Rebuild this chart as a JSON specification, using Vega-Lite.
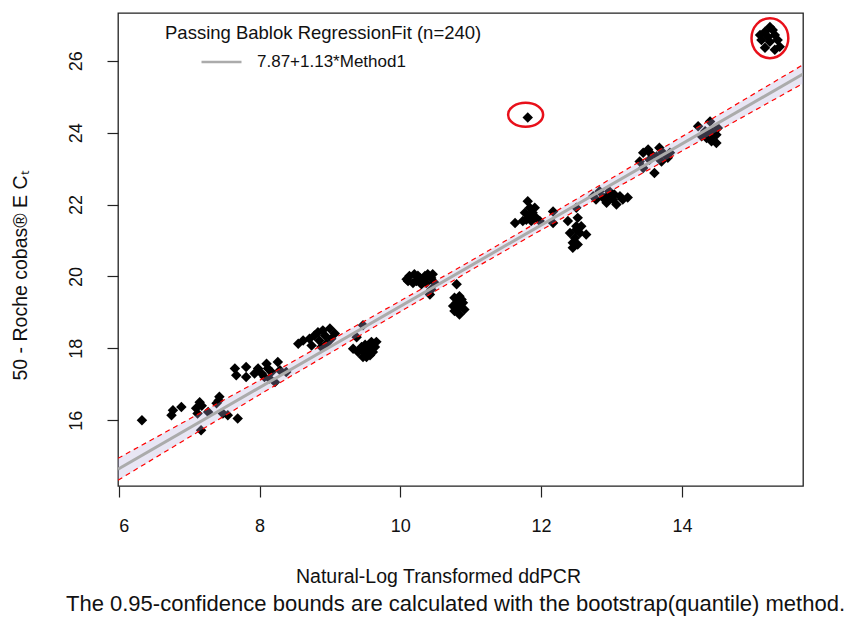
{
  "$schema": "https://vega.github.io/schema/vega-lite/v6.json",
  "autosize": {"type": "none"},
  "width": 685,
  "height": 473,
  "padding": {"left": 118, "top": 13, "right": 45, "bottom": 135},
  "background": "white",
  "title": {"text": "The 0.95-confidence bounds are calculated with the bootstrap(quantile) method.", "orient": "bottom", "anchor": "middle", "offset": 8, "font": "Liberation Sans", "fontSize": 22, "fontWeight": "normal", "color": "#111111", "dx": -5},
  "config": {
    "font": "Liberation Sans",
    "view": {"stroke": "#222222", "strokeWidth": 1.3},
    "axis": {"grid": false, "domain": false, "tickColor": "#222222", "tickSize": 11, "tickWidth": 1.2, "labelColor": "#111111", "titleColor": "#111111", "labelFont": "Liberation Sans", "titleFont": "Liberation Sans", "labelFontSize": 18, "titleFontSize": 19.5, "titleFontWeight": "normal"}
  },
  "datasets": {
    "pts": [
      {"x":6.33,"y":16.0},{"x":6.75,"y":16.14},{"x":6.77,"y":16.28},{"x":6.89,"y":16.37},{"x":7.10,"y":16.33},{"x":7.15,"y":16.5},{"x":7.12,"y":16.19},{"x":7.17,"y":15.72},{"x":7.27,"y":16.23},{"x":7.39,"y":16.47},{"x":7.43,"y":16.65},{"x":7.48,"y":16.19},{"x":7.55,"y":16.14},{"x":7.69,"y":16.05},{"x":7.18,"y":16.4},{"x":7.42,"y":16.55},
      {"x":7.65,"y":17.44},{"x":7.67,"y":17.25},{"x":7.81,"y":17.48},{"x":7.81,"y":17.2},{"x":7.98,"y":17.44},{"x":8.03,"y":17.3},{"x":8.10,"y":17.57},{"x":8.12,"y":17.44},{"x":8.07,"y":17.2},{"x":8.17,"y":17.34},{"x":8.26,"y":17.62},{"x":8.22,"y":17.06},{"x":8.29,"y":17.39},{"x":8.38,"y":17.34},{"x":7.93,"y":17.3},{"x":8.14,"y":17.16},
      {"x":8.55,"y":18.13},{"x":8.62,"y":18.22},{"x":8.71,"y":18.27},{"x":8.74,"y":18.08},{"x":8.83,"y":18.45},{"x":8.85,"y":18.22},{"x":8.88,"y":18.04},{"x":8.93,"y":18.36},{"x":9.0,"y":18.55},{"x":9.02,"y":18.27},{"x":9.07,"y":18.41},{"x":8.78,"y":18.36},{"x":8.95,"y":18.13},{"x":8.9,"y":18.5},
      {"x":9.47,"y":18.64},{"x":9.38,"y":18.31},{"x":9.33,"y":17.99},{"x":9.45,"y":18.04},{"x":9.49,"y":17.9},{"x":9.47,"y":17.76},{"x":9.59,"y":18.18},{"x":9.64,"y":18.04},{"x":9.66,"y":18.18},{"x":9.57,"y":17.81},{"x":9.54,"y":18.04},{"x":9.4,"y":17.9},{"x":9.61,"y":17.9},{"x":9.52,"y":17.76},{"x":9.56,"y":17.95},{"x":9.5,"y":18.1},
      {"x":10.09,"y":19.92},{"x":10.13,"y":20.01},{"x":10.2,"y":20.06},{"x":10.28,"y":19.96},{"x":10.18,"y":19.82},{"x":10.35,"y":20.01},{"x":10.39,"y":20.06},{"x":10.44,"y":19.96},{"x":10.46,"y":20.06},{"x":10.37,"y":19.82},{"x":10.3,"y":19.78},{"x":10.44,"y":19.64},{"x":10.42,"y":19.5},{"x":10.23,"y":19.87},{"x":10.11,"y":19.87},{"x":10.49,"y":19.82},{"x":10.25,"y":20.02},{"x":10.33,"y":19.9},
      {"x":10.8,"y":19.78},{"x":10.77,"y":19.41},{"x":10.84,"y":19.45},{"x":10.8,"y":19.27},{"x":10.89,"y":19.27},{"x":10.82,"y":19.13},{"x":10.91,"y":19.08},{"x":10.77,"y":19.04},{"x":10.84,"y":18.94},{"x":10.87,"y":19.36},{"x":10.75,"y":19.18},{"x":10.85,"y":19.2},
      {"x":11.63,"y":21.49},{"x":11.81,"y":22.09},{"x":11.84,"y":21.91},{"x":11.77,"y":21.77},{"x":11.88,"y":21.77},{"x":11.79,"y":21.58},{"x":11.93,"y":21.63},{"x":11.86,"y":21.54},{"x":11.98,"y":21.54},{"x":11.74,"y":21.54},{"x":11.91,"y":21.91},{"x":12.17,"y":21.81},{"x":12.17,"y":21.49},{"x":11.83,"y":21.68},
      {"x":12.5,"y":21.91},{"x":12.38,"y":21.54},{"x":12.52,"y":21.63},{"x":12.5,"y":21.4},{"x":12.41,"y":21.21},{"x":12.55,"y":21.21},{"x":12.64,"y":21.17},{"x":12.48,"y":21.07},{"x":12.45,"y":20.94},{"x":12.52,"y":20.89},{"x":12.45,"y":20.8},{"x":12.57,"y":21.4},{"x":12.5,"y":21.3},
      {"x":12.74,"y":22.23},{"x":12.83,"y":22.37},{"x":12.93,"y":22.23},{"x":12.97,"y":22.37},{"x":13.04,"y":22.28},{"x":13.12,"y":22.23},{"x":13.16,"y":22.14},{"x":12.93,"y":22.05},{"x":13.07,"y":22.0},{"x":12.78,"y":22.14},{"x":12.88,"y":22.19},{"x":13.02,"y":22.14},{"x":13.23,"y":22.2},
      {"x":13.45,"y":23.44},{"x":13.52,"y":23.53},{"x":13.57,"y":23.39},{"x":13.68,"y":23.58},{"x":13.73,"y":23.44},{"x":13.64,"y":23.34},{"x":13.8,"y":23.3},{"x":13.71,"y":23.2},{"x":13.45,"y":23.02},{"x":13.61,"y":22.88},{"x":13.83,"y":23.44},{"x":13.4,"y":23.2},{"x":13.54,"y":23.25},
      {"x":14.23,"y":24.18},{"x":14.4,"y":24.31},{"x":14.33,"y":24.04},{"x":14.42,"y":24.04},{"x":14.49,"y":23.94},{"x":14.42,"y":23.76},{"x":14.44,"y":23.9},{"x":14.35,"y":23.85},{"x":14.28,"y":23.9},{"x":14.49,"y":23.71},{"x":14.51,"y":24.13},{"x":14.38,"y":23.95},
      {"x":11.81,"y":24.42},
      {"x":15.25,"y":26.94},{"x":15.18,"y":26.81},{"x":15.32,"y":26.72},{"x":15.13,"y":26.58},{"x":15.25,"y":26.53},{"x":15.36,"y":26.58},{"x":15.18,"y":26.36},{"x":15.32,"y":26.31},{"x":15.39,"y":26.39},{"x":15.29,"y":26.86},{"x":15.11,"y":26.72},{"x":15.22,"y":26.67}
    ],
    "band": [
      {"x":5.99,"lo":14.33,"hi":14.94},
      {"x":8.0,"lo":16.71,"hi":17.11},
      {"x":10.0,"lo":19.02,"hi":19.32},
      {"x":11.0,"lo":20.17,"hi":20.43},
      {"x":12.0,"lo":21.29,"hi":21.57},
      {"x":14.0,"lo":23.49,"hi":23.89},
      {"x":15.72,"lo":25.37,"hi":25.89}
    ],
    "fit": [
      {"x":5.99,"y":14.64,"fit":"7.87+1.13*Method1"},
      {"x":15.72,"y":25.63,"fit":"7.87+1.13*Method1"}
    ],
    "flags": [
      {"x":11.78,"y":24.5,"kind":"single"},
      {"x":15.25,"y":26.63,"kind":"cluster"}
    ]
  },
  "layer": [
    {
      "data": {"name": "pts"},
      "mark": {"type": "point", "shape": "diamond", "filled": true, "color": "black", "opacity": 1, "size": 110},
      "encoding": {
        "x": {"field": "x", "type": "quantitative", "scale": {"domain": [5.99, 15.72], "nice": false, "zero": false},
          "axis": {"values": [6, 8, 10, 12, 14], "format": "d", "labelPadding": 20, "titlePadding": 32, "titleX": 320, "titleAlign": "center",
            "title": "Natural-Log Transformed ddPCR"}},
        "y": {"field": "y", "type": "quantitative", "scale": {"domain": [14.17, 27.33], "nice": false, "zero": false},
          "axis": {"values": [16, 18, 20, 22, 24, 26], "format": "d", "labelAngle": 270, "labelPadding": 22, "title": "50 - Roche cobas® E Cₜ", "titleX": -98, "titleY": 262, "titleAngle": 270, "titleAnchor": "middle", "titleBaseline": "middle"}}
      }
    },
    {
      "data": {"name": "band"},
      "mark": {"type": "area", "color": "#B4ACDC", "opacity": 0.3, "clip": true},
      "encoding": {
        "x": {"field": "x", "type": "quantitative"},
        "y": {"field": "lo", "type": "quantitative"},
        "y2": {"field": "hi"}
      }
    },
    {
      "data": {"name": "band"},
      "mark": {"type": "line", "color": "#FF0000", "strokeWidth": 1.2, "strokeDash": [5, 4], "clip": true},
      "encoding": {
        "x": {"field": "x", "type": "quantitative"},
        "y": {"field": "lo", "type": "quantitative"}
      }
    },
    {
      "data": {"name": "band"},
      "mark": {"type": "line", "color": "#FF0000", "strokeWidth": 1.2, "strokeDash": [5, 4], "clip": true},
      "encoding": {
        "x": {"field": "x", "type": "quantitative"},
        "y": {"field": "hi", "type": "quantitative"}
      }
    },
    {
      "data": {"name": "fit"},
      "mark": {"type": "line", "strokeWidth": 3, "clip": true},
      "encoding": {
        "x": {"field": "x", "type": "quantitative"},
        "y": {"field": "y", "type": "quantitative"},
        "color": {"field": "fit", "type": "nominal", "scale": {"range": ["#ABABAB"]},
          "legend": {"orient": "none", "legendX": 47, "legendY": 11, "title": "Passing Bablok RegressionFit (n=240)", "titleFont": "Liberation Sans", "labelFont": "Liberation Sans", "titleLimit": 600, "titleFontSize": 18.5, "titleFontWeight": "normal", "titleColor": "#111111", "titlePadding": -2, "labelFontSize": 17, "labelLimit": 400, "labelColor": "#111111", "symbolType": "stroke", "symbolSize": 1600, "symbolStrokeWidth": 2.5, "symbolOffset": 35, "labelOffset": 14, "padding": 0}}
      }
    },
    {
      "data": {"name": "flags"},
      "transform": [{"filter": "datum.kind === 'single'"}],
      "mark": {"type": "point", "shape": "M -1 0 A 1 0.69 0 1 1 1 0 A 1 0.69 0 1 1 -1 0 Z", "size": 1225, "filled": false, "color": "#E8101A", "strokeWidth": 2.5, "opacity": 1},
      "encoding": {
        "x": {"field": "x", "type": "quantitative"},
        "y": {"field": "y", "type": "quantitative"}
      }
    },
    {
      "data": {"name": "flags"},
      "transform": [{"filter": "datum.kind === 'cluster'"}],
      "mark": {"type": "point", "shape": "M -0.92 0 A 0.92 1 0 1 1 0.92 0 A 0.92 1 0 1 1 -0.92 0 Z", "size": 1600, "filled": false, "color": "#E8101A", "strokeWidth": 2.5, "opacity": 1},
      "encoding": {
        "x": {"field": "x", "type": "quantitative"},
        "y": {"field": "y", "type": "quantitative"}
      }
    }
  ]
}
